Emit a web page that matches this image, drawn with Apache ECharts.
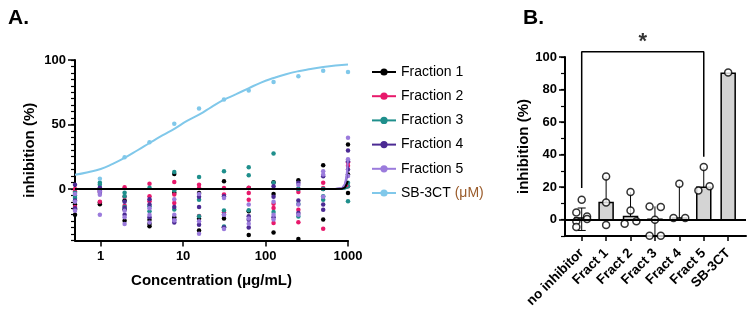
<!DOCTYPE html>
<html>
<head>
<meta charset="utf-8">
<script src="https://cdn.jsdelivr.net/npm/echarts@6/dist/echarts.min.js"></script>
<style>
  html, body { margin: 0; padding: 0; background: #fff; }
  #chart { width: 749px; height: 312px; }
</style>
</head>
<body>
<div id="chart"></div>
<script>
// ---- panel A data ----
const conc = [0.488, 0.977, 1.95, 3.91, 7.81, 15.6, 31.3, 62.5, 125, 250, 500, 1000]
const fract1 = [[-12, -16, -20], [-0.5, -10.6, -11.9], [-9, -16, -24.6], [-24, -27, -29], [11.6, -3, -22], [-3.1, -23.1, -32.2], [5.9, -23, -30], [0.7, -17.4, -35.7], [5.2, -3.9, -33.7], [6.7, 0, -38.9], [18.4, 0, -23.8], [34.4, 11.1, -3.1]]
const fract2 = [[0, -2, -14], [0.7, -2, -10], [1.3, -6, -13], [4, -5.7, -9.6], [5.4, -4.4, -10.9], [3.3, 0.7, -21], [0.7, -4.4, -18], [1, -3.1, -8.3], [-11.4, -14.8, -26.4], [-2.3, -16.1, -25.9], [4.7, 0.8, -30.8], [20.7, 18, 2]]
const fract3 = [[-3, -5, -7], [4.7, 3.3, 0], [-3, -5.7, -14], [0.9, -13.5, -17.4], [13.2, -1, -16], [9.3, -8.3, -21.2], [13.7, -16.8, -29.1], [16.8, 10.6, -16.6], [27.5, 4.7, -17.9], [0, -11.7, -21.3], [0, -5.7, -8.3], [4.7, 2, -9.6]]
const fract4 = [[3.3, -9, -15], [1, -1.5, -3], [-10, -14.8, -20], [-8, -12, -22], [-14, -23.9, -26], [-6, -14, -27.8], [-5.7, -20, -30], [-21.2, -23.9, -30], [2, -6, -22], [4.7, -9, -18.7], [9.8, -12, -16.1], [29.8, 21.5, 15]]
const fract5 = [[-4, -10, -17], [-2, -4.5, -20], [-17, -22, -27.2], [-15, -20, -26], [-8, -20, -24.5], [-4, -25, -34.8], [-7, -20, -31], [-12, -23, -27], [-10, -20, -23.8], [3, -12, -20], [13.7, 11.1, -6], [39.6, 23, 10]]
const sbConc = [0.977, 1.95, 3.91, 7.81, 15.6, 31.3, 62.5, 125, 250, 500, 1000]
const sbVals = [7.8, 24.6, 36.3, 50.5, 62.4, 69.4, 76.4, 82.9, 87.3, 91.7, 90.7]
// fitted curves
const sbCurveX = [0.488, 0.7, 1, 1.4, 2, 2.8, 4, 5.6, 8, 11, 16, 22, 31, 44, 62, 88, 125, 177, 250, 354, 500, 707, 1000]
const sbCurveY = [11, 13, 15.5, 19.5, 24.5, 30, 36, 41.5, 47, 52.5, 58, 63.5, 69, 73.5, 78, 82.5, 86, 89, 91.3, 93, 94.5, 95.7, 96.6]
const fitX = [0.488, 700, 850, 920, 960, 1000]
const fit1 = [0, 0, 0.2, 1, 2.5, 6]
const fit2 = [0, 0, 0.1, 0.5, 1.2, 3]
const fit3 = [0, 0, 0, 0.2, 0.5, 1]
const fit4 = [0, 0, 0.5, 3, 8, 18]
const fit5 = [0, 0, 0.7, 4, 10, 23]
const xTicksA = [1, 10, 100, 1000]
const yTicksA = [0, 50, 100]

// ---- panel B data ----
const categories = ['no inhibitor', 'Fract 1', 'Fract 2', 'Fract 3', 'Fract 4', 'Fract 5', 'SB-3CT']
const barVals = [1, 10.6, 2, 0.3, 1, 20, 90]
const errLow = [-6.6, 10.6, 2, -9.8, 1, 20, 90]
const errHigh = [7.2, 26.6, 17, 8.2, 22.1, 32.4, 90]
const replicates = [[12.3, 4.5, 2, 0.5, -1, -4.5], [26.6, 10.6, -3.3], [17, 5.6, -2.5, -1], [8.2, 7.8, 0, -9.8, -9.8], [22.1, 1, 1], [32.4, 18, 20.5], [90.5]]
const yTicksB = [0, 20, 40, 60, 80, 100]

// horizontal spread of the dots inside each column (category units)
const jitter = [[0, -0.22, 0.22, 0.22, -0.22, -0.22], [0, 0, 0], [0, 0, -0.24, 0.24], [-0.22, 0.24, 0, -0.22, 0.24], [0, -0.24, 0.24], [0, -0.22, 0.24], [0]]

const colors = ['#000000', '#e8196b', '#1f8f8c', '#4b2a93', '#9b7bdc', '#80c8ea']
const font = 'Liberation Sans, Arial, sans-serif'

const toPoints = arr => arr.flatMap((vals, i) => vals.map(v => [conc[i], v]))
const zip = (xs, ys) => xs.map((x, i) => [x, ys[i]])

const minorA = []
for (let v = -40; v <= 100; v += 5) minorA.push(v)
const minorB = []
for (let v = -10; v <= 100; v += 10) minorB.push(v)

const fractions = [fract1, fract2, fract3, fract4, fract5]
const fits = [fit1, fit2, fit3, fit4, fit5]
const names = ['Fraction 1', 'Fraction 2', 'Fraction 3', 'Fraction 4', 'Fraction 5', 'SB-3CT']

const chart = echarts.init(document.getElementById('chart'))

const lineSeries = names.map((name, k) => ({
  name,
  type: 'line',
  xAxisIndex: 0,
  yAxisIndex: 0,
  data: k < 5 ? zip(fitX, fits[k]) : zip(sbCurveX, sbCurveY),
  smooth: k === 5,
  symbol: 'circle',
  symbolSize: 5,
  showSymbol: false,
  lineStyle: { color: colors[k], width: 2 },
  itemStyle: { color: colors[k] },
  z: k === 0 ? 6 : 5,
  silent: true
}))

const scatterSeries = names.map((name, k) => ({
  name,
  type: 'scatter',
  xAxisIndex: 0,
  yAxisIndex: 0,
  data: k < 5 ? toPoints(fractions[k]) : zip(sbConc, sbVals),
  symbolSize: 4.5,
  itemStyle: { color: colors[k], opacity: 1 },
  z: 3,
  clip: false
}))

chart.setOption({
  animation: false,
  textStyle: { fontFamily: font },
  grid: [
    { left: 75, top: 60, width: 273, height: 180.5 },
    { left: 565, top: 57, width: 181, height: 179 }
  ],
  legend: {
    data: names,
    orient: 'vertical',
    left: 366,
    top: 60,
    itemWidth: 24,
    itemHeight: 9,
    itemGap: 10.2,
    selectedMode: false,
    textStyle: { fontSize: 14, color: '#000', fontFamily: font, rich: { u: { color: '#9a5b2a', fontSize: 14, fontFamily: font } } },
    formatter: n => n === 'SB-3CT' ? 'SB-3CT {u|(μM)}' : n
  },
  xAxis: [
    {
      type: 'log',
      gridIndex: 0,
      min: 0.488,
      max: 1000,
      name: 'Concentration (μg/mL)',
      nameLocation: 'middle',
      nameGap: 33,
      nameTextStyle: { fontSize: 15, fontWeight: 'bold', color: '#000' },
      axisLine: { onZero: false, lineStyle: { color: '#000', width: 2 } },
      axisTick: { length: 6, lineStyle: { color: '#000', width: 1.5 }, customValues: xTicksA },
      axisLabel: { customValues: xTicksA, formatter: v => String(v), fontSize: 13, fontWeight: 'bold', color: '#000', margin: 9 },
      splitLine: { show: false }
    },
    {
      type: 'value',
      gridIndex: 1,
      min: -0.684,
      max: 6.73,
      axisLine: { onZero: false, lineStyle: { color: '#000', width: 2 } },
      axisTick: { length: 5, lineStyle: { color: '#000', width: 1.5 }, customValues: [0, 1, 2, 3, 4, 5, 6] },
      axisLabel: {
        customValues: [0, 1, 2, 3, 4, 5, 6],
        formatter: v => categories[Math.round(v)],
        rotate: 45,
        fontSize: 13.5,
        fontWeight: 'bold',
        color: '#000',
        margin: 15
      },
      splitLine: { show: false }
    }
  ],
  yAxis: [
    {
      type: 'value',
      gridIndex: 0,
      position: 'left',
      min: -40,
      max: 100,
      name: 'inhibition (%)',
      nameLocation: 'middle',
      nameGap: 38,
      nameTextStyle: { fontSize: 15, fontWeight: 'bold', color: '#000' },
      axisLine: { show: true, onZero: false, lineStyle: { color: '#000', width: 2 } },
      axisTick: { show: true, length: 7, lineStyle: { color: '#000', width: 1.5 }, customValues: yTicksA },
      axisLabel: { customValues: yTicksA, fontSize: 13, fontWeight: 'bold', color: '#000', margin: 9 },
      splitLine: { show: false }
    },
    {
      type: 'value',
      gridIndex: 0,
      position: 'left',
      min: -40,
      max: 100,
      axisLine: { show: false, onZero: false },
      axisTick: { show: true, length: 4, lineStyle: { color: '#000', width: 1.2 }, customValues: minorA },
      axisLabel: { show: false },
      splitLine: { show: false }
    },
    {
      type: 'value',
      gridIndex: 1,
      position: 'left',
      min: -10,
      max: 100,
      name: 'inhibition (%)',
      nameLocation: 'middle',
      nameGap: 31,
      nameTextStyle: { fontSize: 15, fontWeight: 'bold', color: '#000' },
      axisLine: { show: true, onZero: false, lineStyle: { color: '#000', width: 2 } },
      axisTick: { show: true, length: 6, lineStyle: { color: '#000', width: 1.5 }, customValues: yTicksB },
      axisLabel: { customValues: yTicksB, fontSize: 13, fontWeight: 'bold', color: '#000', margin: 8 },
      splitLine: { show: false }
    },
    {
      type: 'value',
      gridIndex: 1,
      position: 'left',
      min: -10,
      max: 100,
      axisLine: { show: false, onZero: false },
      axisTick: { show: true, length: 4, lineStyle: { color: '#000', width: 1.2 }, customValues: minorB },
      axisLabel: { show: false },
      splitLine: { show: false }
    }
  ],
  graphic: [
    { type: 'text', left: 8, top: 8, style: { text: 'A.', font: 'bold 21px ' + font, fill: '#000' } },
    { type: 'text', left: 523, top: 8, style: { text: 'B.', font: 'bold 21px ' + font, fill: '#000' } }
  ],
  series: [
    ...lineSeries,
    ...scatterSeries,
    // panel B: bars + error bars
    {
      type: 'custom',
      xAxisIndex: 1,
      yAxisIndex: 2,
      data: barVals.map((v, i) => [i, v, errLow[i], errHigh[i], i === 0 ? 1 : 0]),
      clip: false,
      z: 2,
      renderItem: (params, api) => {
        const i = api.value(0)
        const base = api.coord([i, 0])
        const top = api.coord([i, api.value(1)])
        const lo = api.coord([i, api.value(2)])
        const hi = api.coord([i, api.value(3)])
        const w = 14
        const children = [
          {
            type: 'rect',
            shape: { x: base[0] - w / 2, y: Math.min(top[1], base[1]), width: w, height: Math.abs(base[1] - top[1]) },
            style: { fill: '#d4d4d4', stroke: '#000', lineWidth: 1.5 }
          },
          {
            type: 'line',
            shape: { x1: lo[0], y1: lo[1], x2: hi[0], y2: hi[1] },
            style: { stroke: '#000', lineWidth: 1 }
          }
        ]
        if (api.value(4)) {
          children.push(
            { type: 'line', shape: { x1: lo[0] - 4, y1: lo[1], x2: lo[0] + 4, y2: lo[1] }, style: { stroke: '#000', lineWidth: 1 } },
            { type: 'line', shape: { x1: hi[0] - 4, y1: hi[1], x2: hi[0] + 4, y2: hi[1] }, style: { stroke: '#000', lineWidth: 1 } }
          )
        }
        return { type: 'group', children }
      }
    },
    // panel B: zero line, 100 % line
    {
      type: 'line',
      xAxisIndex: 1,
      yAxisIndex: 2,
      data: [],
      silent: true,
      z: 3,
      markLine: {
        silent: true,
        symbol: 'none',
        label: { show: false },
        data: [
          [{ coord: [-0.684, 0] }, { coord: [6.73, 0] }],
          [{ coord: [-0.6, 100], lineStyle: { type: [2, 3], width: 1.5 } }, { coord: [6.85, 100] }]
        ],
        lineStyle: { color: '#000', width: 2, type: 'solid' }
      }
    },
    // significance bracket
    {
      type: 'line',
      xAxisIndex: 1,
      yAxisIndex: 2,
      data: [[0, 19.5], [0, 103.2], [5, 103.2], [5, 38.7]],
      symbol: 'none',
      clip: false,
      silent: true,
      lineStyle: { color: '#000', width: 1.5 },
      z: 3
    },
    {
      type: 'scatter',
      xAxisIndex: 1,
      yAxisIndex: 2,
      data: [[2.5, 109.5]],
      symbolSize: 0,
      clip: false,
      silent: true,
      label: { show: true, formatter: '*', fontSize: 22, fontWeight: 'bold', color: '#000', position: 'inside' }
    },
    // panel B replicate dots
    {
      type: 'scatter',
      xAxisIndex: 1,
      yAxisIndex: 2,
      data: replicates.flatMap((vals, i) => vals.map((v, j) => [i + jitter[i][j], v])),
      symbol: 'circle',
      symbolSize: 7,
      clip: false,
      itemStyle: { color: '#fff', borderColor: '#000', borderWidth: 1.5 },
      z: 4
    }
  ]
})
</script>
</body>
</html>
